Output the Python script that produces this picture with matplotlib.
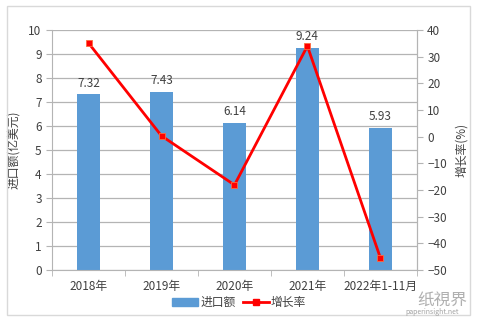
import numpy as np
import matplotlib.pyplot as plt
from matplotlib.patches import Rectangle
from matplotlib.lines import Line2D

plt.rcParams['font.family'] = ['Noto Sans CJK SC', 'DejaVu Sans']

years = ['2018年', '2019年', '2020年', '2021年', '2022年1-11月']
imports = [7.32, 7.43, 6.14, 9.24, 5.93]
growth = [35.1, 0.3, -18.1, 34.0, -45.4]

bar_color = '#5B9BD5'
line_color = '#FF0000'
text_color = '#404040'

fig = plt.figure(figsize=(4.78, 3.23), dpi=100)
fig.patches.append(Rectangle((0.015, 0.025), 0.968, 0.955, transform=fig.transFigure,
                             fill=False, edgecolor='#D9D9D9', linewidth=1))

ax = fig.add_axes([0.109, 0.164, 0.763, 0.743])
x = np.arange(len(years))
ax.bar(x, imports, width=0.31, color=bar_color, zorder=2)
for xi, v in zip(x, imports):
    ax.text(xi, v + 0.2, f'{v:.2f}', ha='center', va='bottom', fontsize=8.5, color=text_color)

ax.set_xlim(-0.5, len(years) - 0.5)
ax.set_ylim(0, 10)
ax.set_yticks(range(0, 11))
ax.yaxis.grid(True, color='#B4B4B4', linewidth=0.9, zorder=0)
ax.set_xticks(x)
ax.set_xticklabels(years, fontsize=8.5, color=text_color)
ax.set_xticks(np.arange(-0.5, len(years)), minor=True)
ax.tick_params(axis='x', which='major', length=0, pad=7)
ax.tick_params(axis='x', which='minor', length=4, color='#B4B4B4')
ax.tick_params(axis='y', labelsize=8.5, labelcolor=text_color, length=4, color='#B4B4B4')
ax.spines['top'].set_visible(False)
for s in ['left', 'bottom', 'right']:
    ax.spines[s].set_color('#B4B4B4')
ax.set_ylabel('进口额(亿美元)', fontsize=8.5, color=text_color, labelpad=6)

ax2 = ax.twinx()
ax2.plot(x, growth, color=line_color, linewidth=2, marker='s', markersize=5,
         markerfacecolor=line_color, markeredgecolor='#FF6A3D', markeredgewidth=0.6, zorder=3)
ax2.set_ylim(-50, 40)
ax2.set_yticks(range(-50, 41, 10))
ax2.tick_params(axis='y', labelsize=8.5, labelcolor=text_color, length=4, color='#B4B4B4')
for s in ['top', 'left', 'bottom']:
    ax2.spines[s].set_visible(False)
ax2.spines['right'].set_color('#B4B4B4')
ax2.set_ylabel('增长率(%)', fontsize=8.5, color=text_color, rotation=90, labelpad=6)

handles = [Rectangle((0, 0), 1, 1, color=bar_color),
           Line2D([], [], color=line_color, linewidth=2, marker='s', markersize=5)]
fig.legend(handles, ['进口额', '增长率'], loc='center', bbox_to_anchor=(0.5, 0.063), ncol=2,
           frameon=False, fontsize=8.5, handlelength=2.2, handleheight=0.6,
           columnspacing=0.6, handletextpad=0.2, labelcolor=text_color)

fig.text(0.925, 0.07, '纸視界', fontsize=12, color='#B0B0B0', ha='center', va='center')
fig.text(0.905, 0.035, 'paperinsight.net', fontsize=5, color='#A0A0A0', ha='center', va='center')

fig.savefig('out.png', dpi=100)
